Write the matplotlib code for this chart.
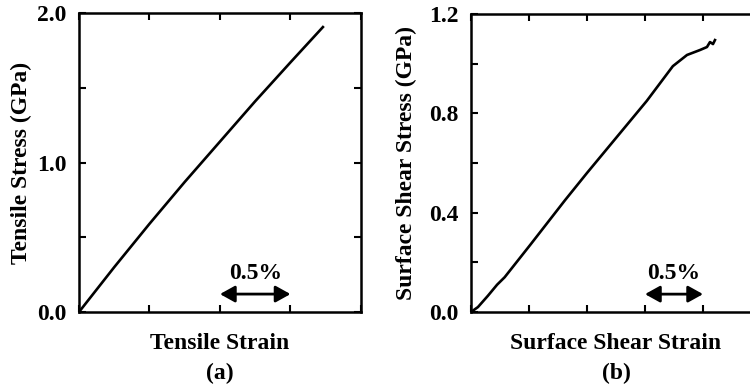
import matplotlib
matplotlib.use('Agg')
import matplotlib.pyplot as plt
from matplotlib.ticker import MultipleLocator, NullFormatter, FormatStrFormatter

plt.rcParams['font.family'] = 'Liberation Serif'
plt.rcParams['font.weight'] = 'bold'

# (a) tensile test, strain in %, stress in GPa
tens_strain = [0.0, 0.25, 0.50, 0.75, 1.0, 1.25, 1.50, 1.73]
tens_stress = [0.0, 0.30, 0.59, 0.87, 1.14, 1.41, 1.67, 1.906]

# (b) surface shear test
shear_strain = [0.0, 0.06, 0.145, 0.225, 0.29, 0.51, 0.81, 1.0, 1.515, 1.74,
                1.862, 1.974, 2.034, 2.06, 2.086, 2.103]
shear_stress = [0.0, 0.02, 0.065, 0.11, 0.14, 0.27, 0.45, 0.56, 0.85, 0.99,
                1.035, 1.055, 1.067, 1.087, 1.079, 1.095]

fig = plt.figure(figsize=(7.5, 3.91), dpi=100)
ax1 = fig.add_axes([0.1053, 0.2020, 0.376, 0.7647])
ax2 = fig.add_axes([0.628, 0.2020, 0.3867, 0.7622])

fs = 17
arrow_style = '<|-|>,head_length=0.45,head_width=0.25'


def style(ax, ymax, ymajor, yminor, xmax):
    ax.set_xlim(0, xmax)
    ax.set_ylim(0, ymax)
    ax.xaxis.set_major_locator(MultipleLocator(0.5))
    ax.xaxis.set_major_formatter(NullFormatter())
    ax.yaxis.set_major_locator(MultipleLocator(ymajor))
    ax.yaxis.set_minor_locator(MultipleLocator(yminor))
    ax.yaxis.set_major_formatter(FormatStrFormatter('%.1f'))
    ax.tick_params(which='both', direction='in', top=True, right=True,
                   width=1.5, length=5, labelsize=fs, pad=9)
    for s in ax.spines.values():
        s.set_linewidth(1.8)


style(ax1, 2.0, 1.0, 0.5, 2.0)
ax1.plot(tens_strain, tens_stress, color='black', lw=1.9)
ax1.set_xlabel('Tensile Strain', fontsize=fs, fontweight='bold', labelpad=6)
ax1.set_ylabel('Tensile Stress (GPa)', fontsize=fs, fontweight='bold')
ax1.yaxis.set_label_coords(-0.167, 0.5)
ax1.annotate('', xy=(1.0, 0.12), xytext=(1.5, 0.12),
             arrowprops=dict(arrowstyle=arrow_style, color='black', lw=2.0,
                             mutation_scale=20, shrinkA=0, shrinkB=0))
ax1.text(1.25, 0.26, '0.5%', ha='center', va='center', fontsize=fs, fontweight='bold')
ax1.text(0.5, -0.205, '(a)', transform=ax1.transAxes, ha='center', va='center',
         fontsize=fs, fontweight='bold')

style(ax2, 1.2, 0.4, 0.2, 2.5)
ax2.plot(shear_strain, shear_stress, color='black', lw=1.9)
ax2.set_xlabel('Surface Shear Strain', fontsize=fs, fontweight='bold', labelpad=6)
ax2.set_ylabel('Surface Shear Stress (GPa)', fontsize=fs, fontweight='bold')
ax2.yaxis.set_label_coords(-0.186, 0.5)
ax2.annotate('', xy=(1.5, 0.072), xytext=(2.0, 0.072),
             arrowprops=dict(arrowstyle=arrow_style, color='black', lw=2.0,
                             mutation_scale=20, shrinkA=0, shrinkB=0))
ax2.text(1.75, 0.157, '0.5%', ha='center', va='center', fontsize=fs, fontweight='bold')
ax2.text(0.5, -0.205, '(b)', transform=ax2.transAxes, ha='center', va='center',
         fontsize=fs, fontweight='bold')

fig.savefig('out.png', dpi=100)
